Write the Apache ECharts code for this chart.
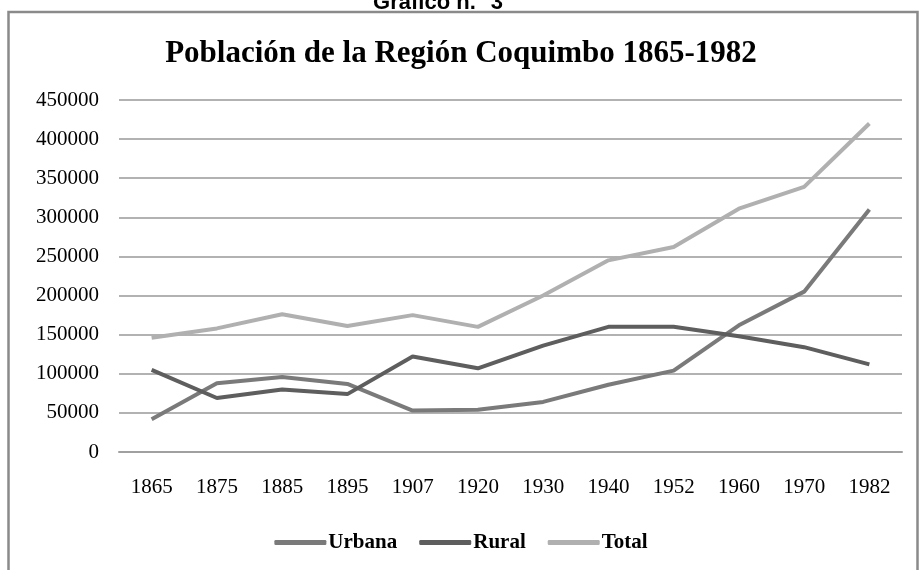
<!DOCTYPE html>
<html>
<head>
<meta charset="utf-8">
<script src="https://cdn.jsdelivr.net/npm/echarts@6/dist/echarts.min.js"></script>
<style>
  html, body { margin: 0; padding: 0; background: #fff; }
  #chart { width: 922px; height: 570px; }
</style>
</head>
<body>
<div id="chart"></div>
<script type="text/javascript">
const years = ['1865', '1875', '1885', '1895', '1907', '1920', '1930', '1940', '1952', '1960', '1970', '1982'];
const urbana = [42000, 88000, 96000, 87000, 53000, 54000, 64000, 86000, 104000, 162000, 205000, 310000];
const rural = [105000, 69000, 80000, 74000, 122000, 107000, 136000, 160000, 160000, 148000, 134000, 112000];
const total = [146000, 158000, 176000, 161000, 175000, 160000, 200000, 245000, 262000, 311000, 339000, 420000];

const serif = '"Liberation Serif", "Times New Roman", serif';
const myChart = echarts.init(document.getElementById('chart'));
const option = {
    backgroundColor: '#fff',
    animation: false,
    title: {
        text: 'Población de la Región Coquimbo 1865-1982',
        left: 'center',
        top: 33,
        textStyle: { fontFamily: serif, fontSize: 31, fontWeight: 'bold', color: '#000' }
    },
    graphic: [
        {
            type: 'rect',
            shape: { x: 8.5, y: 12, width: 909, height: 600 },
            style: { fill: 'none', stroke: '#8a8a8a', lineWidth: 2.5 }
        },
        {
            type: 'text',
            x: 438,
            y: 14,
            style: {
                text: 'Gráfico n.° 3',
                font: 'bold 22px "Liberation Sans", Arial, sans-serif',
                fill: '#000',
                textAlign: 'center',
                textVerticalAlign: 'bottom'
            }
        }
    ],
    grid: { left: 119, right: 20, top: 100, bottom: 118 },
    legend: {
        bottom: 12,
        left: 'center',
        icon: 'roundRect',
        itemWidth: 52,
        itemHeight: 5,
        itemGap: 22,
        textStyle: { fontFamily: serif, fontSize: 21, fontWeight: 'bold', color: '#000', padding: [0, 0, 0, -3] },
        data: ['Urbana', 'Rural', 'Total']
    },
    xAxis: {
        type: 'category',
        data: years,
        axisLine: { show: true, lineStyle: { color: '#a0a0a0', width: 2 } },
        axisTick: { show: false },
        axisLabel: { fontFamily: serif, fontSize: 21, color: '#000', margin: 25 }
    },
    yAxis: {
        type: 'value',
        min: 0,
        max: 450000,
        interval: 50000,
        axisLine: { show: false },
        axisTick: { show: false },
        axisLabel: {
            fontFamily: serif, fontSize: 21, color: '#000', margin: 20,
            formatter: function (v) { return String(v); }
        },
        splitLine: { lineStyle: { color: '#999', width: 1.5 } }
    },
    series: [
        {
            name: 'Urbana', type: 'line', data: urbana, symbol: 'none',
            color: '#7a7a7a', lineStyle: { width: 4, color: '#7a7a7a' }
        },
        {
            name: 'Rural', type: 'line', data: rural, symbol: 'none',
            color: '#5e5e5e', lineStyle: { width: 4, color: '#5e5e5e' }
        },
        {
            name: 'Total', type: 'line', data: total, symbol: 'none',
            color: '#b0b0b0', lineStyle: { width: 4, color: '#b0b0b0' }
        }
    ]
};
myChart.setOption(option);
window.addEventListener('resize', function () {
    myChart.resize();
});
</script>
</body>
</html>
